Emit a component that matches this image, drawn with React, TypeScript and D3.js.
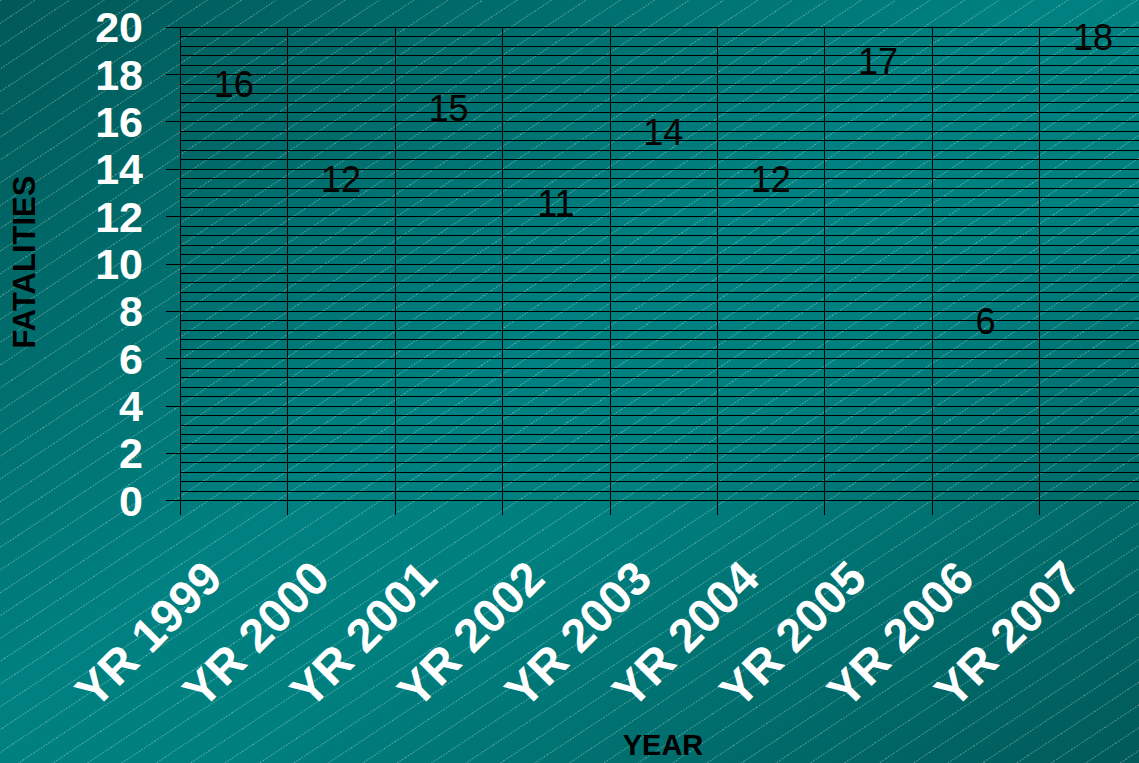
import React from "react";
import * as d3 from "d3";

const categories = ["YR 1999", "YR 2000", "YR 2001", "YR 2002", "YR 2003", "YR 2004", "YR 2005", "YR 2006", "YR 2007"];
const fatalities = [16, 12, 15, 11, 14, 12, 17, 6, 18];
const yTicks = [0, 2, 4, 6, 8, 10, 12, 14, 16, 18, 20];
const yTitle = "FATALITIES";
const xTitle = "YEAR";

const W = 1139;
const H = 763;
const left = 180;
const top = 26.7;
const bottom = 500.3;
const bandW = 107.4;

export default function App() {
  React.useEffect(() => {
    document.body.style.margin = "0";
  }, []);
  const x = d3.scaleBand<string>().domain(categories).range([left, left + bandW * categories.length]).padding(0);
  const y = d3.scaleLinear().domain([0, 20]).range([bottom, top]);
  const minor = d3.range(0, 20.0001, 0.4);
  const font = "'Liberation Sans', Arial, sans-serif";
  const boundaries = categories.map((c) => x(c)!);
  return (
    <svg width={W} height={H} style={{ display: "block", position: "absolute", left: 0, top: 0 }} fontFamily={font}>
      <defs>
        <linearGradient id="bg" x1="0" y1="0" x2="1" y2="1">
          <stop offset="0" stopColor="#005857" />
          <stop offset="0.45" stopColor="#008080" />
          <stop offset="0.6" stopColor="#007f7f" />
          <stop offset="1" stopColor="#005a59" />
        </linearGradient>
        <pattern id="stripes" patternUnits="userSpaceOnUse" width="40" height="19" patternTransform="rotate(-33.5)">
          <line x1="0" y1="0.5" x2="40" y2="0.5" stroke="#ffffff" strokeOpacity="0.38" strokeWidth="1" strokeDasharray="1.5,1.5" />
        </pattern>
      </defs>
      <rect x={0} y={0} width={W} height={H} fill="url(#bg)" />
      <rect x={0} y={0} width={W} height={H} fill="url(#stripes)" />

      {/* minor horizontal grid */}
      {minor.map((v, i) => (
        <line key={"m" + i} x1={left} x2={W} y1={Math.round(y(v)) + 0.5} y2={Math.round(y(v)) + 0.5} stroke="#000" strokeWidth={1} />
      ))}
      {/* major ticks on y axis */}
      {yTicks.map((v) => (
        <line key={"t" + v} x1={166} x2={left} y1={Math.round(y(v)) + 0.5} y2={Math.round(y(v)) + 0.5} stroke="#000" strokeWidth={1} />
      ))}
      {/* vertical lines at category boundaries */}
      {boundaries.map((bx, i) => (
        <line key={"v" + i} x1={Math.round(bx) + 0.5} x2={Math.round(bx) + 0.5} y1={top} y2={515} stroke="#000" strokeWidth={1} />
      ))}

      {/* y tick labels */}
      {yTicks.map((v) => (
        <text key={"yl" + v} x={143} y={y(v)} dy="0.36em" textAnchor="end" fill="#fff" fontWeight="bold" fontSize={43}>
          {v}
        </text>
      ))}

      {/* value labels */}
      {fatalities.map((v, i) => (
        <text key={"val" + i} x={x(categories[i])! + x.bandwidth() / 2} y={y(v) - 24} textAnchor="middle" fill="#000" fontSize={36}>
          {v}
        </text>
      ))}

      {/* x labels */}
      {categories.map((c) => {
        const cx = x(c)! + x.bandwidth() / 2 - 9;
        const cy = 581;
        return (
          <text key={"xl" + c} x={cx} y={cy} transform={`rotate(-45 ${cx} ${cy})`} textAnchor="end" fill="#fff" fontWeight="bold" fontSize={47}>
            {c}
          </text>
        );
      })}

      <text x={35} y={262} transform="rotate(-90 35 262)" textAnchor="middle" fill="#000" fontWeight="bold" fontSize={31}>
        {yTitle}
      </text>
      <text x={663} y={755} textAnchor="middle" fill="#000" fontWeight="bold" fontSize={29}>
        {xTitle}
      </text>
    </svg>
  );
}
